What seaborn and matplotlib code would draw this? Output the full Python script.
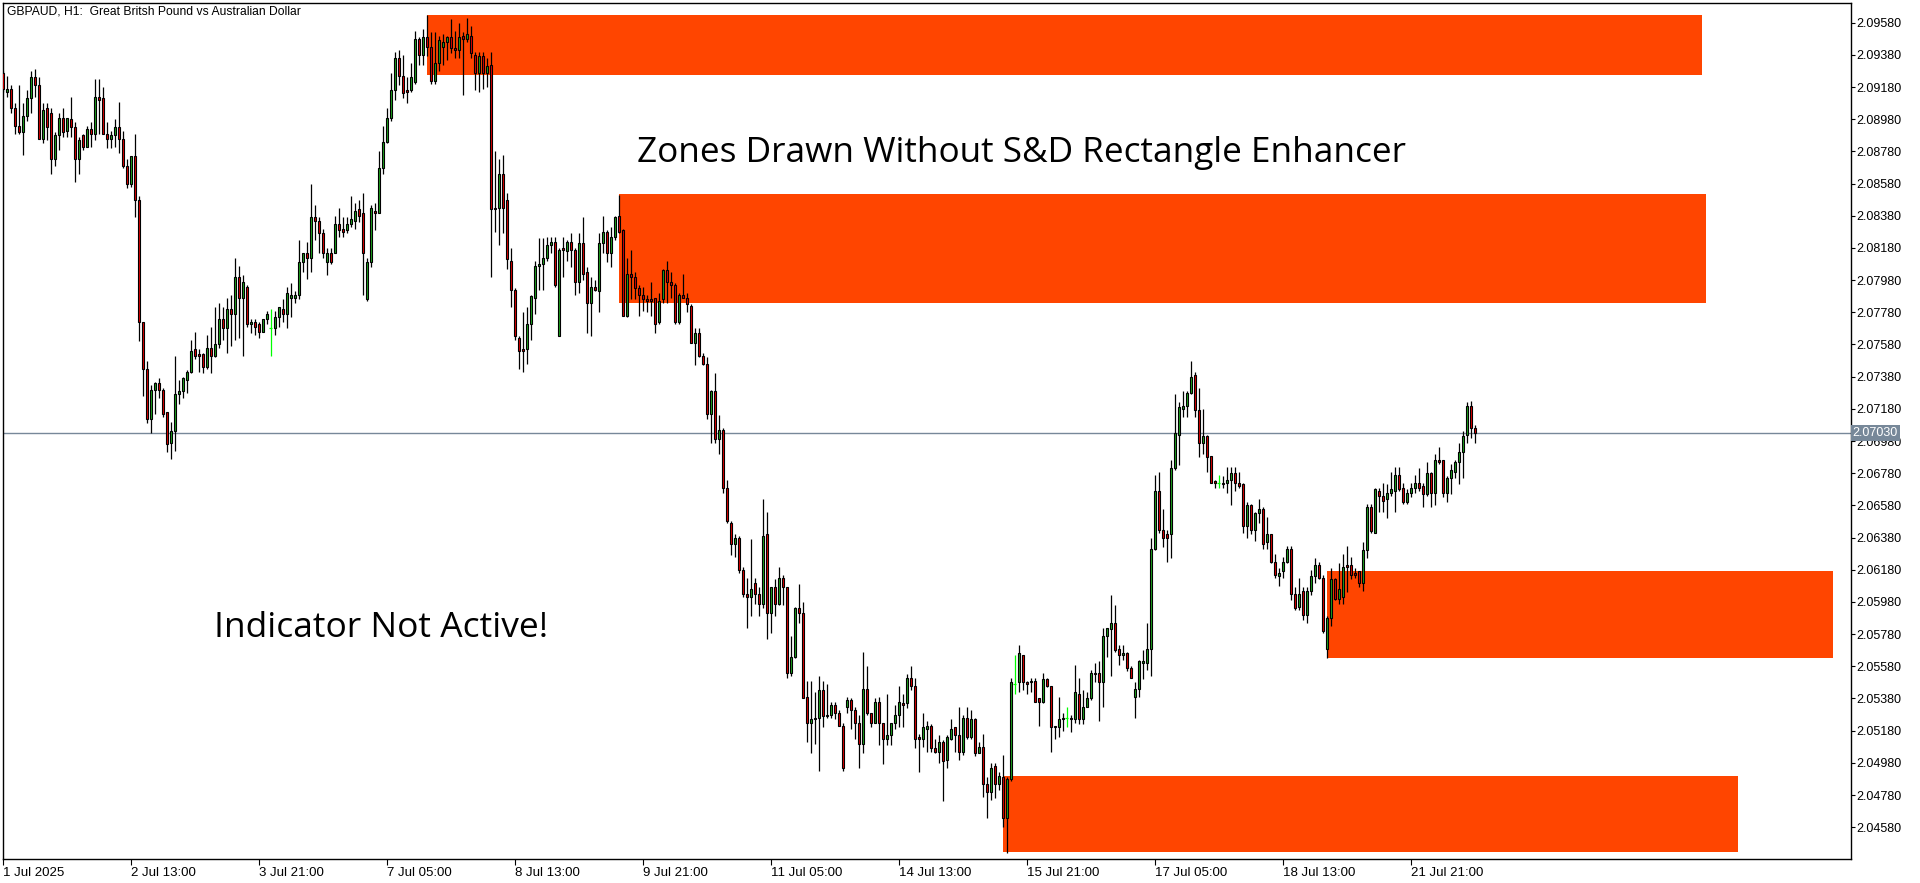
import numpy as np
import pandas as pd
import matplotlib
matplotlib.use("Agg")
import matplotlib.pyplot as plt
import seaborn as sns

# ---------------- data (GBPAUD H1) ----------------
opens = [2.0927,2.0915,2.0917,2.0905,2.0894,2.0890,2.0900,2.0911,2.0924,2.0919,
2.0886,2.0905,2.0902,2.0873,2.0888,2.0899,2.0891,2.0898,2.0893,2.0873,
2.0888,2.0881,2.0892,2.0889,2.0912,2.0911,2.0889,2.0886,2.0888,2.0893,
2.0886,2.0869,2.0858,2.0875,2.0848,2.0772,2.0743,2.0712,2.0730,2.0734,
2.0730,2.0716,2.0697,2.0704,2.0727,2.0729,2.0736,2.0741,2.0755,2.0752,
2.0752,2.0744,2.0756,2.0751,2.0758,2.0774,2.0768,2.0780,2.0777,2.0800,
2.0787,2.0794,2.0771,2.0772,2.0771,2.0766,2.0774,2.0768,2.0768,2.0775,
2.0780,2.0777,2.0787,2.0787,2.0789,2.0809,2.0815,2.0812,2.0837,2.0835,
2.0827,2.0809,2.0815,2.0815,2.0833,2.0830,2.0829,2.0833,2.0835,2.0842,
2.0840,2.0786,2.0809,2.0841,2.0840,2.0868,2.0884,2.0899,2.0916,2.0936,
2.0925,2.0916,2.0916,2.0921,2.0948,2.0938,2.0949,2.0943,2.0922,2.0933,
2.0943,2.0946,2.0949,2.0942,2.0941,2.0950,2.0948,2.0950,2.0938,2.0927,
2.0937,2.0927,2.0932,2.0843,2.0843,2.0864,2.0848,2.0810,2.0792,2.0762,
2.0755,2.0755,2.0771,2.0787,2.0807,2.0808,2.0812,2.0820,2.0822,2.0763,
2.0818,2.0816,2.0822,2.0817,2.0797,2.0821,2.0803,2.0784,2.0794,2.0791,
2.0821,2.0828,2.0815,2.0825,2.0838,2.0829,2.0776,2.0802,2.0800,2.0793,
2.0789,2.0786,2.0786,2.0787,2.0772,2.0786,2.0804,2.0797,2.0795,2.0772,
2.0789,2.0787,2.0782,2.0759,2.0765,2.0751,2.0746,2.0715,2.0729,2.0699,
2.0705,2.0669,2.0647,2.0634,2.0638,2.0618,2.0603,2.0601,2.0610,2.0603,
2.0597,2.0640,2.0591,2.0607,2.0597,2.0613,2.0607,2.0554,2.0564,2.0594,
2.0591,2.0539,2.0523,2.0525,2.0526,2.0543,2.0528,2.0528,2.0534,2.0529,
2.0521,2.0533,2.0537,2.0531,2.0523,2.0510,2.0544,2.0529,2.0523,2.0536,
2.0523,2.0513,2.0515,2.0523,2.0528,2.0535,2.0535,2.0551,2.0546,2.0514,
2.0513,2.0519,2.0521,2.0507,2.0505,2.0511,2.0500,2.0513,2.0520,2.0515,
2.0505,2.0526,2.0514,2.0525,2.0504,2.0508,2.0485,2.0480,2.0496,2.0485,
2.0489,2.0464,2.0488,2.0547,2.0548,2.0565,2.0548,2.0548,2.0549,2.0538,
2.0536,2.0550,2.0546,2.0520,2.0520,2.0525,2.0526,2.0526,2.0525,2.0541,
2.0525,2.0533,2.0538,2.0554,2.0554,2.0548,2.0577,2.0581,2.0585,2.0569,
2.0565,2.0566,2.0557,2.0539,2.0544,2.0560,2.0560,2.0569,2.0631,2.0667,
2.0643,2.0640,2.0640,2.0681,2.0702,2.0718,2.0720,2.0728,2.0739,2.0717,
2.0697,2.0701,2.0689,2.0673,2.0672,2.0672,2.0672,2.0674,2.0678,2.0672,
2.0671,2.0645,2.0658,2.0643,2.0653,2.0656,2.0635,2.0640,2.0623,2.0614,
2.0617,2.0623,2.0631,2.0603,2.0595,2.0605,2.0590,2.0605,2.0614,2.0621,
2.0613,2.0569,2.0588,2.0612,2.0600,2.0601,2.0621,2.0621,2.0616,2.0617,
2.0610,2.0630,2.0657,2.0641,2.0667,2.0664,2.0662,2.0666,2.0667,2.0677,
2.0669,2.0660,2.0666,2.0669,2.0672,2.0670,2.0665,2.0678,2.0666,2.0686,
2.0686,2.0666,2.0675,2.0679,2.0685,2.0691,2.0702,2.0720,2.0706]

highs = [2.0928,2.0925,2.0919,2.0908,2.0919,2.0908,2.0916,2.0928,2.0929,2.0924,
2.0908,2.0908,2.0905,2.0890,2.0902,2.0905,2.0899,2.0912,2.0896,2.0887,
2.0889,2.0894,2.0896,2.0923,2.0923,2.0918,2.0896,2.0891,2.0898,2.0909,
2.0891,2.0873,2.0875,2.0889,2.0850,2.0772,2.0748,2.0733,2.0735,2.0737,
2.0731,2.0716,2.0710,2.0751,2.0736,2.0738,2.0742,2.0761,2.0766,2.0755,
2.0753,2.0764,2.0769,2.0781,2.0784,2.0781,2.0787,2.0789,2.0812,2.0807,
2.0801,2.0795,2.0774,2.0774,2.0772,2.0774,2.0779,2.0780,2.0779,2.0781,
2.0786,2.0794,2.0796,2.0791,2.0823,2.0815,2.0822,2.0858,2.0845,2.0837,
2.0830,2.0818,2.0818,2.0838,2.0843,2.0837,2.0837,2.0850,2.0846,2.0848,
2.0852,2.0812,2.0845,2.0846,2.0878,2.0894,2.0905,2.0927,2.0940,2.0941,
2.0938,2.0924,2.0933,2.0953,2.0949,2.0954,2.0963,2.0952,2.0952,2.0950,
2.0951,2.0950,2.0960,2.0953,2.0958,2.0952,2.0961,2.0956,2.0940,2.0940,
2.0940,2.0936,2.0940,2.0878,2.0873,2.0876,2.0852,2.0818,2.0793,2.0763,
2.0778,2.0781,2.0789,2.0810,2.0824,2.0824,2.0825,2.0825,2.0825,2.0818,
2.0825,2.0823,2.0827,2.0818,2.0827,2.0837,2.0806,2.0800,2.0798,2.0827,
2.0838,2.0829,2.0831,2.0838,2.0851,2.0830,2.0812,2.0817,2.0803,2.0795,
2.0794,2.0789,2.0797,2.0787,2.0790,2.0805,2.0810,2.0803,2.0796,2.0790,
2.0802,2.0790,2.0783,2.0768,2.0768,2.0753,2.0750,2.0730,2.0740,2.0714,
2.0706,2.0674,2.0648,2.0640,2.0639,2.0620,2.0613,2.0637,2.0613,2.0607,
2.0662,2.0654,2.0607,2.0612,2.0620,2.0615,2.0607,2.0577,2.0595,2.0609,
2.0598,2.0549,2.0549,2.0542,2.0552,2.0549,2.0547,2.0536,2.0536,2.0531,
2.0523,2.0539,2.0538,2.0533,2.0528,2.0567,2.0558,2.0529,2.0538,2.0539,
2.0523,2.0541,2.0523,2.0534,2.0546,2.0541,2.0553,2.0558,2.0551,2.0516,
2.0529,2.0524,2.0522,2.0513,2.0515,2.0512,2.0515,2.0525,2.0520,2.0533,
2.0528,2.0533,2.0531,2.0526,2.0511,2.0516,2.0489,2.0498,2.0498,2.0492,
2.0503,2.0489,2.0551,2.0565,2.0571,2.0565,2.0549,2.0551,2.0551,2.0538,
2.0554,2.0551,2.0546,2.0521,2.0539,2.0529,2.0533,2.0528,2.0559,2.0551,
2.0543,2.0542,2.0556,2.0560,2.0561,2.0582,2.0582,2.0602,2.0596,2.0571,
2.0571,2.0567,2.0558,2.0548,2.0562,2.0568,2.0585,2.0638,2.0677,2.0679,
2.0656,2.0643,2.0686,2.0727,2.0722,2.0729,2.0729,2.0748,2.0741,2.0731,
2.0718,2.0702,2.0689,2.0674,2.0677,2.0676,2.0682,2.0682,2.0682,2.0679,
2.0672,2.0660,2.0659,2.0654,2.0662,2.0657,2.0651,2.0640,2.0628,2.0619,
2.0626,2.0633,2.0633,2.0607,2.0613,2.0607,2.0607,2.0618,2.0625,2.0623,
2.0615,2.0589,2.0619,2.0613,2.0622,2.0628,2.0633,2.0626,2.0619,2.0617,
2.0635,2.0659,2.0659,2.0669,2.0669,2.0672,2.0671,2.0679,2.0682,2.0682,
2.0672,2.0668,2.0672,2.0677,2.0681,2.0672,2.0685,2.0679,2.0690,2.0694,
2.0686,2.0676,2.0684,2.0686,2.0697,2.0704,2.0722,2.0723,2.0708]

lows = [2.0915,2.0912,2.0902,2.0889,2.0889,2.0876,2.0897,2.0902,2.0912,2.0886,
2.0883,2.0885,2.0864,2.0869,2.0879,2.0887,2.0887,2.0887,2.0859,2.0864,
2.0879,2.0881,2.0881,2.0885,2.0889,2.0889,2.0880,2.0880,2.0881,2.0877,
2.0868,2.0855,2.0856,2.0837,2.0760,2.0726,2.0709,2.0703,2.0715,2.0725,
2.0713,2.0691,2.0687,2.0692,2.0721,2.0725,2.0728,2.0740,2.0749,2.0741,
2.0740,2.0743,2.0740,2.0750,2.0756,2.0761,2.0753,2.0757,2.0761,2.0762,
2.0751,2.0769,2.0765,2.0764,2.0762,2.0766,2.0771,2.0751,2.0764,2.0769,
2.0772,2.0768,2.0775,2.0784,2.0786,2.0803,2.0799,2.0803,2.0823,2.0815,
2.0812,2.0801,2.0808,2.0815,2.0825,2.0825,2.0827,2.0831,2.0830,2.0834,
2.0789,2.0785,2.0806,2.0829,2.0840,2.0864,2.0883,2.0897,2.0910,2.0919,
2.0911,2.0908,2.0915,2.0920,2.0932,2.0932,2.0937,2.0920,2.0920,2.0928,
2.0932,2.0935,2.0939,2.0936,2.0936,2.0913,2.0946,2.0936,2.0916,2.0915,
2.0917,2.0918,2.0800,2.0828,2.0820,2.0827,2.0805,2.0781,2.0761,2.0743,
2.0741,2.0746,2.0761,2.0777,2.0792,2.0792,2.0810,2.0815,2.0794,2.0763,
2.0800,2.0810,2.0806,2.0789,2.0790,2.0798,2.0765,2.0763,2.0791,2.0778,
2.0815,2.0809,2.0806,2.0823,2.0827,2.0776,2.0775,2.0786,2.0786,2.0776,
2.0779,2.0778,2.0776,2.0765,2.0771,2.0784,2.0784,2.0787,2.0771,2.0771,
2.0787,2.0778,2.0759,2.0745,2.0750,2.0745,2.0712,2.0697,2.0697,2.0690,
2.0666,2.0647,2.0627,2.0626,2.0616,2.0601,2.0582,2.0589,2.0597,2.0589,
2.0594,2.0575,2.0579,2.0589,2.0596,2.0596,2.0551,2.0552,2.0563,2.0585,
2.0538,2.0511,2.0504,2.0510,2.0493,2.0520,2.0526,2.0526,2.0525,2.0521,
2.0493,2.0529,2.0519,2.0513,2.0495,2.0504,2.0528,2.0520,2.0523,2.0509,
2.0497,2.0509,2.0509,2.0519,2.0520,2.0520,2.0532,2.0543,2.0507,2.0492,
2.0508,2.0505,2.0505,2.0504,2.0498,2.0474,2.0495,2.0512,2.0505,2.0500,
2.0503,2.0513,2.0513,2.0502,2.0504,2.0477,2.0464,2.0475,2.0476,2.0481,
2.0458,2.0442,2.0487,2.0541,2.0542,2.0543,2.0541,2.0542,2.0536,2.0521,
2.0535,2.0545,2.0505,2.0513,2.0514,2.0518,2.0520,2.0517,2.0523,2.0522,
2.0522,2.0533,2.0537,2.0548,2.0524,2.0533,2.0564,2.0552,2.0567,2.0559,
2.0562,2.0555,2.0551,2.0526,2.0539,2.0550,2.0556,2.0552,2.0630,2.0641,
2.0632,2.0623,2.0625,2.0680,2.0683,2.0713,2.0713,2.0727,2.0713,2.0688,
2.0690,2.0679,2.0672,2.0669,2.0669,2.0669,2.0666,2.0658,2.0667,2.0669,
2.0641,2.0638,2.0640,2.0636,2.0647,2.0631,2.0631,2.0622,2.0613,2.0608,
2.0613,2.0622,2.0599,2.0593,2.0593,2.0587,2.0585,2.0602,2.0610,2.0612,
2.0579,2.0563,2.0583,2.0599,2.0597,2.0597,2.0604,2.0612,2.0613,2.0607,
2.0605,2.0625,2.0641,2.0641,2.0654,2.0654,2.0650,2.0664,2.0654,2.0667,
2.0659,2.0659,2.0663,2.0666,2.0667,2.0657,2.0664,2.0657,2.0658,2.0684,
2.0663,2.0660,2.0665,2.0675,2.0671,2.0675,2.0697,2.0700,2.0697]

closes = [2.0917,2.0917,2.0905,2.0894,2.0890,2.0900,2.0911,2.0924,2.0919,2.0886,
2.0904,2.0893,2.0873,2.0888,2.0899,2.0890,2.0899,2.0893,2.0873,2.0885,
2.0881,2.0892,2.0889,2.0912,2.0910,2.0889,2.0886,2.0888,2.0893,2.0886,
2.0869,2.0858,2.0875,2.0848,2.0772,2.0743,2.0712,2.0730,2.0734,2.0730,
2.0715,2.0696,2.0704,2.0727,2.0729,2.0737,2.0741,2.0754,2.0751,2.0751,
2.0744,2.0756,2.0751,2.0758,2.0774,2.0768,2.0780,2.0777,2.0800,2.0787,
2.0797,2.0771,2.0772,2.0769,2.0766,2.0774,2.0777,2.0768,2.0775,2.0781,
2.0777,2.0790,2.0789,2.0789,2.0809,2.0815,2.0812,2.0837,2.0835,2.0827,
2.0815,2.0815,2.0809,2.0833,2.0829,2.0828,2.0833,2.0836,2.0841,2.0838,
2.0815,2.0809,2.0843,2.0840,2.0868,2.0884,2.0899,2.0916,2.0936,2.0925,
2.0914,2.0915,2.0924,2.0948,2.0938,2.0949,2.0943,2.0922,2.0933,2.0947,
2.0946,2.0949,2.0942,2.0941,2.0949,2.0948,2.0951,2.0939,2.0927,2.0937,
2.0927,2.0931,2.0842,2.0842,2.0864,2.0843,2.0811,2.0792,2.0763,2.0754,
2.0754,2.0771,2.0788,2.0807,2.0808,2.0812,2.0820,2.0822,2.0795,2.0817,
2.0817,2.0822,2.0817,2.0797,2.0821,2.0802,2.0784,2.0794,2.0792,2.0821,
2.0828,2.0815,2.0825,2.0837,2.0828,2.0776,2.0802,2.0800,2.0793,2.0789,
2.0786,2.0785,2.0785,2.0771,2.0785,2.0804,2.0797,2.0795,2.0772,2.0789,
2.0787,2.0783,2.0759,2.0765,2.0751,2.0746,2.0715,2.0729,2.0699,2.0705,
2.0669,2.0648,2.0634,2.0638,2.0618,2.0603,2.0601,2.0606,2.0603,2.0597,
2.0639,2.0591,2.0607,2.0597,2.0613,2.0607,2.0554,2.0564,2.0594,2.0591,
2.0538,2.0523,2.0525,2.0526,2.0543,2.0527,2.0527,2.0534,2.0529,2.0521,
2.0495,2.0537,2.0531,2.0523,2.0510,2.0544,2.0529,2.0523,2.0536,2.0523,
2.0513,2.0515,2.0523,2.0528,2.0536,2.0534,2.0551,2.0546,2.0513,2.0513,
2.0520,2.0521,2.0507,2.0505,2.0511,2.0499,2.0514,2.0519,2.0515,2.0505,
2.0526,2.0514,2.0525,2.0504,2.0508,2.0485,2.0480,2.0495,2.0485,2.0490,
2.0464,2.0488,2.0548,2.0547,2.0566,2.0548,2.0547,2.0549,2.0536,2.0536,
2.0550,2.0546,2.0520,2.0521,2.0525,2.0526,2.0526,2.0525,2.0542,2.0525,
2.0533,2.0538,2.0554,2.0553,2.0548,2.0577,2.0582,2.0585,2.0568,2.0565,
2.0566,2.0557,2.0551,2.0544,2.0561,2.0561,2.0569,2.0631,2.0667,2.0643,
2.0638,2.0638,2.0681,2.0703,2.0719,2.0720,2.0728,2.0738,2.0717,2.0697,
2.0701,2.0688,2.0672,2.0672,2.0672,2.0671,2.0674,2.0678,2.0672,2.0670,
2.0645,2.0658,2.0643,2.0653,2.0656,2.0634,2.0640,2.0623,2.0615,2.0616,
2.0623,2.0631,2.0603,2.0594,2.0603,2.0590,2.0605,2.0614,2.0621,2.0613,
2.0580,2.0588,2.0612,2.0600,2.0606,2.0620,2.0620,2.0615,2.0615,2.0610,
2.0630,2.0657,2.0642,2.0668,2.0664,2.0661,2.0666,2.0668,2.0677,2.0668,
2.0660,2.0666,2.0669,2.0672,2.0669,2.0665,2.0678,2.0666,2.0686,2.0685,
2.0666,2.0675,2.0680,2.0685,2.0691,2.0701,2.0720,2.0706,2.0703]

# time axis labels (bar index where each label sits)
time_label_bars = [0, 32, 64, 96, 128, 160, 192, 224, 256, 288, 320, 352]
time_labels = ["1 Jul 2025", "2 Jul 13:00", "3 Jul 21:00", "7 Jul 05:00",
               "8 Jul 13:00", "9 Jul 21:00", "11 Jul 05:00", "14 Jul 13:00",
               "15 Jul 21:00", "17 Jul 05:00", "18 Jul 13:00", "21 Jul 21:00"]

# supply / demand zones (start bar, end bar, top price, bottom price)
zone_start = [106, 154, 331, 250]
zone_end = [424.9, 425.9, 457.6, 433.8]
zone_top = [2.09628, 2.08515, 2.06174, 2.04898]
zone_bottom = [2.09257, 2.07840, 2.05633, 2.04428]

price_ticks = [2.04580 + 0.002 * k for k in range(26)]
bid_price = 2.07030
y_range = (2.043823, 2.097043)

title_text = "GBPAUD, H1:  Great Britsh Pound vs Australian Dollar"
headline = "Zones Drawn Without S&D Rectangle Enhancer"
note = "Indicator Not Active!"

# ---------------- drawing ----------------
sns.set_theme(style="white")
plt.rcParams["font.family"] = ["Liberation Sans", "DejaVu Sans"]

df = pd.DataFrame({"open": opens, "high": highs, "low": lows, "close": closes})
df["bar"] = np.arange(len(df))

W, H = 1920, 883
fig = plt.figure(figsize=(W / 100, H / 100), dpi=100)
fig.patch.set_facecolor("white")
left_px, right_px, top_px, bot_px = 2.7, 1851.0, 2.7, 859.0
ax = fig.add_axes([left_px / W, 1 - bot_px / H, (right_px - left_px) / W, (bot_px - top_px) / H])
ax.set_facecolor("white")

# zones (behind candles)
for s, e, t, b in zip(zone_start, zone_end, zone_top, zone_bottom):
    ax.fill_between([s, e], [b, b], [t, t], color="#FF4500", linewidth=0, zorder=1)

# bid line
ax.axhline(bid_price, color="#778899", lw=1.0, zorder=2)

doji = df["open"] == df["close"]
up = df["close"] > df["open"]
dn = df["close"] < df["open"]

# wicks
nd = df[~doji]
ax.vlines(nd["bar"], nd["low"], nd["high"], color="black", lw=0.9, zorder=3)
dj = df[doji]
ax.vlines(dj["bar"], dj["low"], dj["high"], color="#00FF00", lw=0.9, zorder=3)
ax.hlines(dj["open"], dj["bar"] - 0.3, dj["bar"] + 0.3, color="#00FF00", lw=0.9, zorder=3)

# bodies
for mask, col in ((up, "#1FA51F"), (dn, "#E00000")):
    sub = df[mask]
    lo = np.minimum(sub["open"], sub["close"])
    hgt = (sub["close"] - sub["open"]).abs()
    ax.bar(sub["bar"], hgt, bottom=lo, width=0.5, color=col,
           edgecolor="black", linewidth=0.8, zorder=4)

ax.set_xlim((left_px - 2.5) / 4, (right_px - 2.5) / 4)
ax.set_ylim(*y_range)

# axes styling
for sp in ax.spines.values():
    sp.set_color("black")
    sp.set_linewidth(1.0)
    sp.set_visible(True)

ax.yaxis.tick_right()
ax.set_yticks(price_ticks)
ax.set_yticklabels([f"{p:.5f}" for p in price_ticks])
ax.tick_params(axis="y", which="major", direction="out", length=3, width=0.8,
               color="black", labelsize=9, pad=1, labelcolor="black", right=True, left=False)

ax.set_xticks(time_label_bars)
ax.set_xticklabels(time_labels, ha="left", fontfamily=["Liberation Sans Narrow", "Liberation Sans"])
ax.tick_params(axis="x", which="major", direction="out", length=4.5, width=0.8,
               color="black", labelsize=9.5, pad=1, labelcolor="black", bottom=True)
ax.grid(False)

# bid price label box
ax.text(1.0008, bid_price, f"{bid_price:.5f}", transform=ax.get_yaxis_transform(),
        ha="left", va="center", fontsize=9, color="white", zorder=10, clip_on=False,
        bbox=dict(boxstyle="square,pad=0.15", facecolor="#778899", edgecolor="none"))

# texts
fig.text(7 / W, 1 - 11 / H, title_text, fontsize=8.7, ha="left", va="center", color="black")
fig.text(637 / W, 1 - 153 / H, headline, fontsize=25.3, ha="left", va="center",
         color="black", fontfamily=["Open Sans", "DejaVu Sans"])
fig.text(214 / W, 1 - 628 / H, note, fontsize=25.5, ha="left", va="center",
         color="black", fontfamily=["Open Sans", "DejaVu Sans"])

fig.savefig("out.png", dpi=100, facecolor="white")
